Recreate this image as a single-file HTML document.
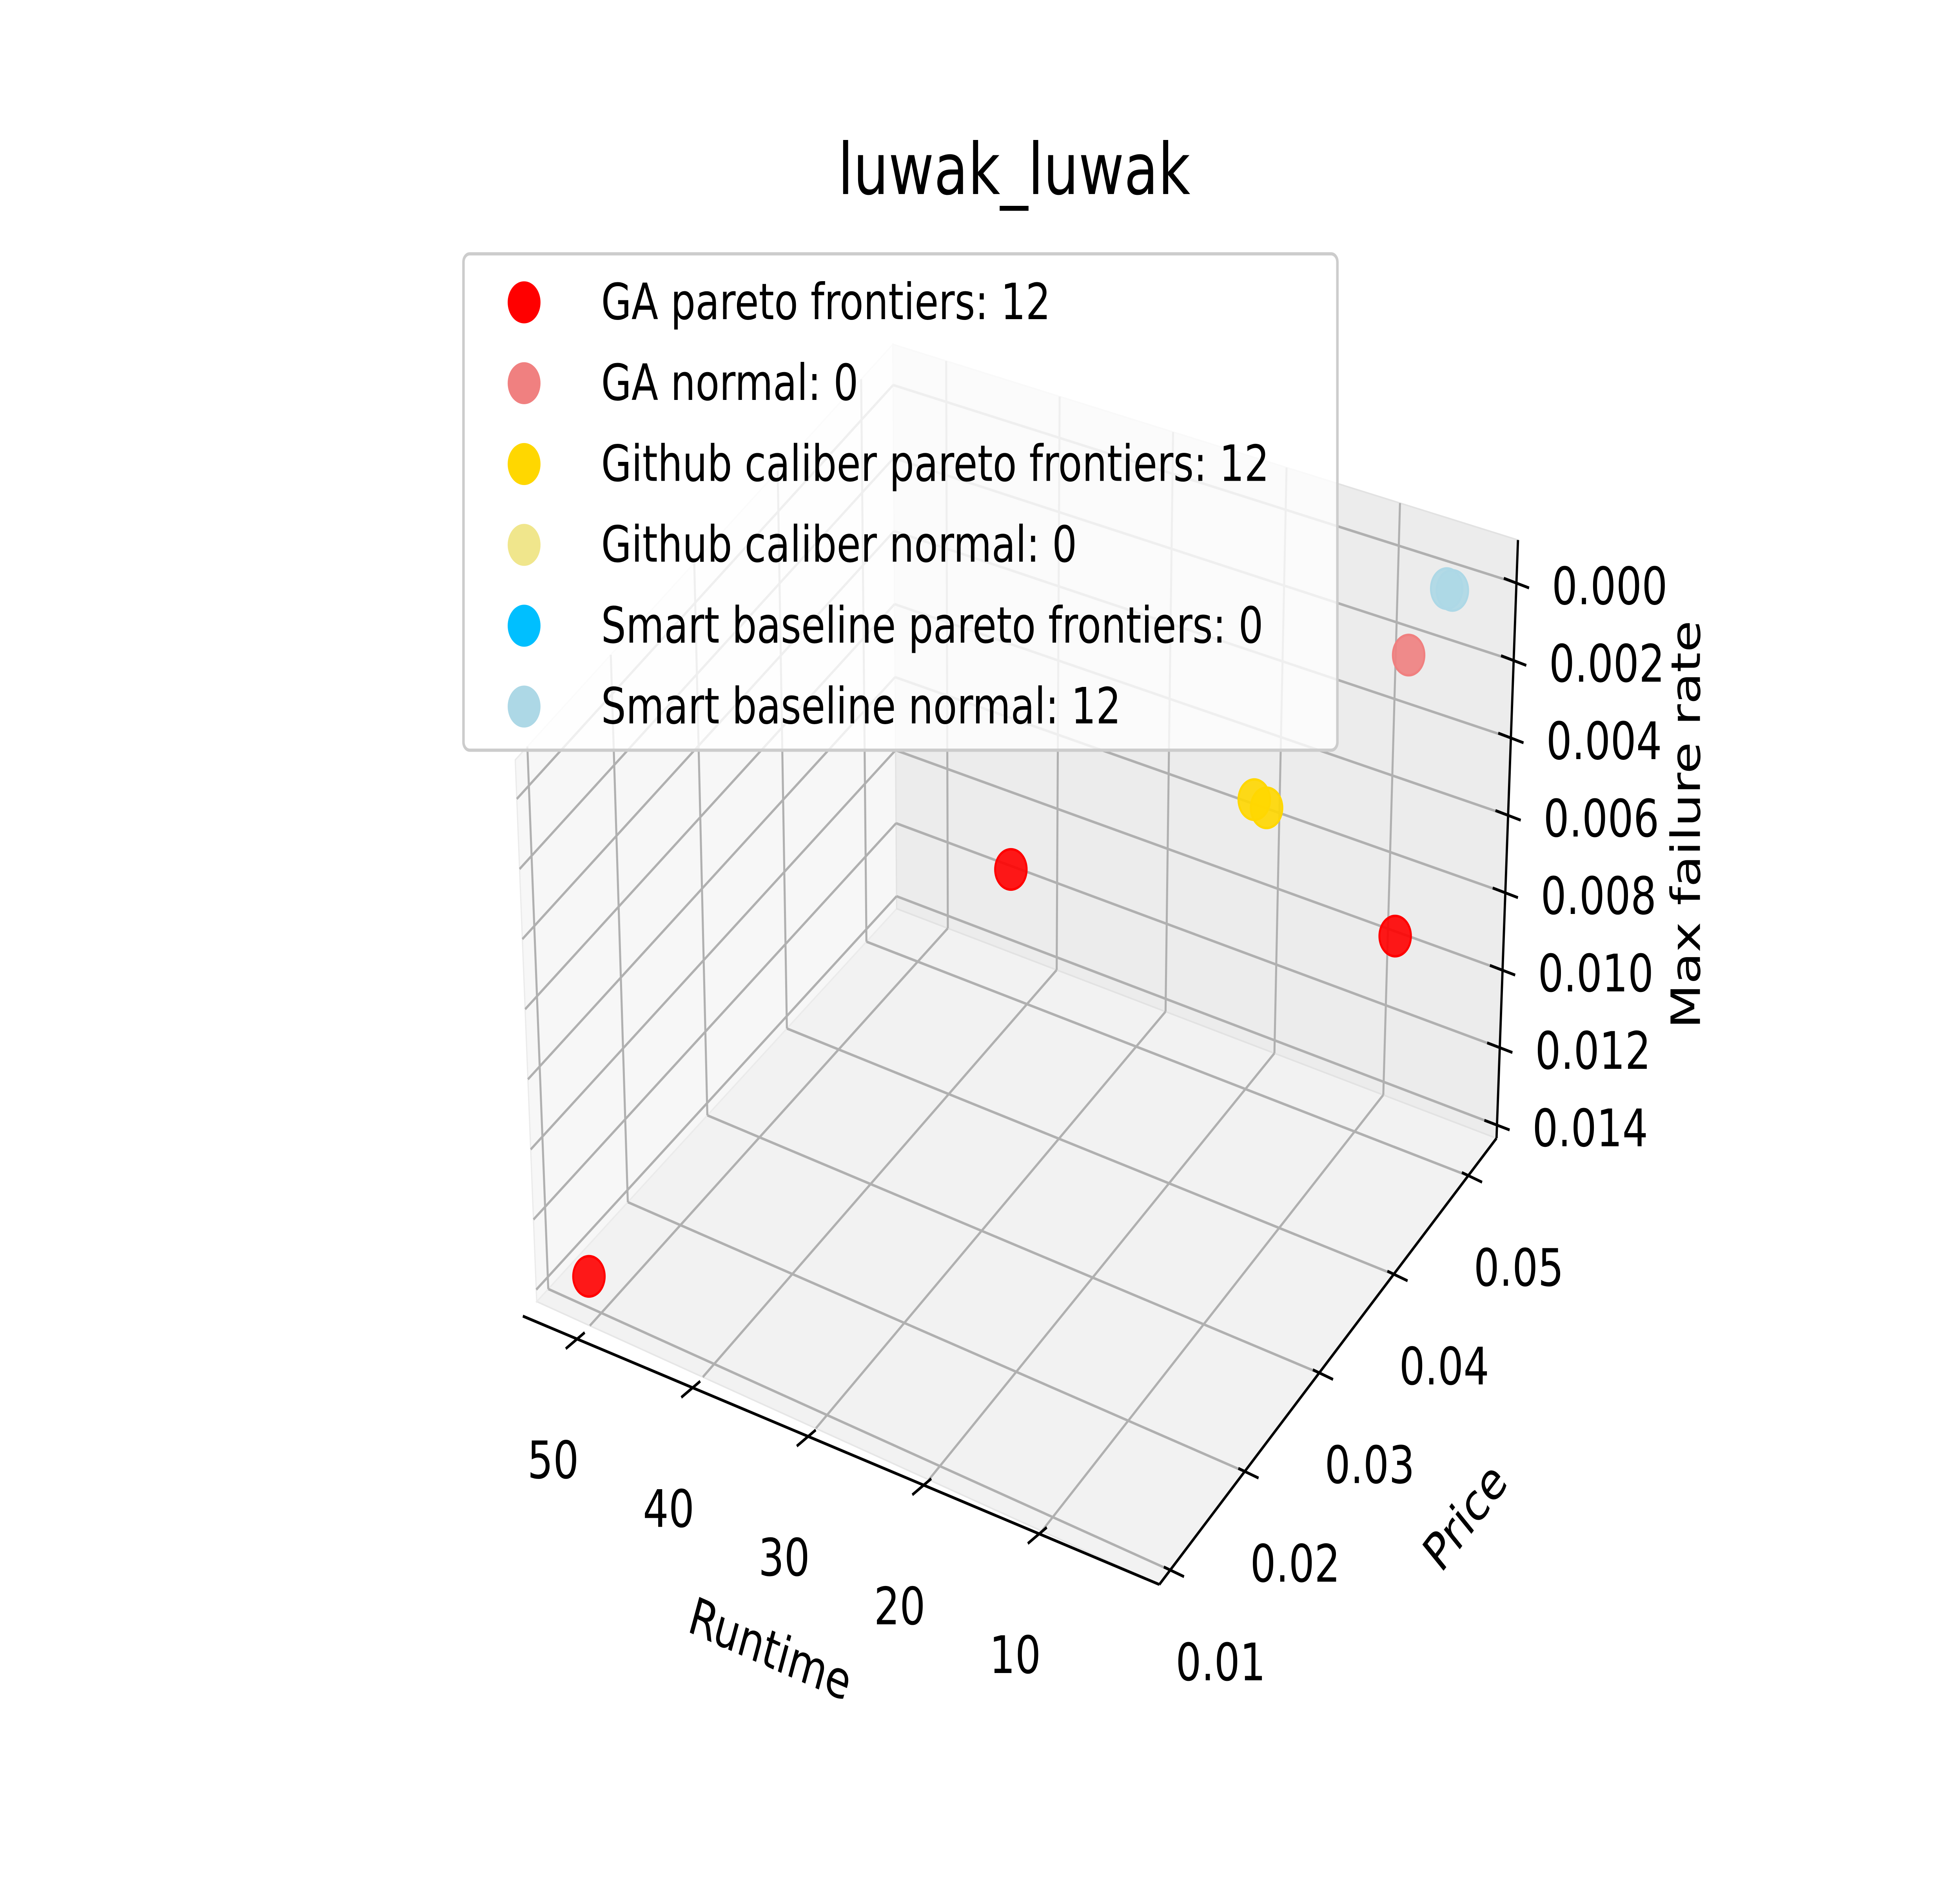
<!DOCTYPE html>
<html><head><meta charset="utf-8"><style>
html,body{margin:0;padding:0;background:#fff;overflow:hidden;width:100%;height:100%;}
svg{display:block;width:100vw;height:100vh;}
text{font-family:"DejaVu Sans","Liberation Sans",sans-serif;fill:#000;}
</style></head><body>
<svg id="chart" viewBox="0 0 1552 1164" preserveAspectRatio="none" xmlns="http://www.w3.org/2000/svg">
<rect x="0" y="0" width="1552" height="1164" fill="#fff"/>
<g id="panes"></g>
<g id="grid"></g>
<g id="axes"></g>
<g id="points"></g>
<text x="803" y="120" font-size="44" text-anchor="middle">luwak_luwak</text>
<g id="legend"></g>
</svg>
<script>
// ---- data ----
const runtimeTicks = [10, 20, 30, 40, 50];
const priceTicks = [0.01, 0.02, 0.03, 0.04, 0.05];
const rateTicks = [0, 0.002, 0.004, 0.006, 0.008, 0.010, 0.012, 0.014];
const rateTickLabels = ["0.000","0.002","0.004","0.006","0.008","0.010","0.012","0.014"];
const priceTickLabels = ["0.01","0.02","0.03","0.04","0.05"];
const runtimeTickLabels = ["10","20","30","40","50"];

const gaParetoRuntime = [50.7, 40.7, 6.1];
const gaParetoPrice = [0.0096, 0.0489, 0.0489];
const gaParetoRate = [0.0133, 0.0105, 0.0085];
const gaNormalRuntime = [7.0];
const gaNormalPrice = [0.051];
const gaNormalRate = [0.0018];
const ghParetoRuntime = [15.6, 14.5];
const ghParetoPrice = [0.044, 0.044];
const ghParetoRate = [0.0046, 0.0047];
const sbNormalRuntime = [4.5, 4.0];
const sbNormalPrice = [0.052, 0.052];
const sbNormalRate = [0.0001, 0.0001];

const legendLabels = ["GA pareto frontiers: 12","GA normal: 0","Github caliber pareto frontiers: 12","Github caliber normal: 0","Smart baseline pareto frontiers: 0","Smart baseline normal: 12"];
const legendColors = ["#ff0000","#f08080","#ffd700","#f0e68c","#00bfff","#add8e6"];

// ---- projection ----
const A=[425,805],B=[918,980],C=[1185,704],D=[710,562];
const At=[408,470],Bt=[920,640],Ct=[1202,334],Dt=[707,213];
function bil(P,Q,R,S,u,v){
  return [(1-u)*(1-v)*P[0]+u*(1-v)*Q[0]+u*v*R[0]+(1-u)*v*S[0],
          (1-u)*(1-v)*P[1]+u*(1-v)*Q[1]+u*v*R[1]+(1-u)*v*S[1]];
}
function uOf(r){return (54.7-r)/55.1;}
function vOf(p){return (p-0.00855)/0.04525;}
function wOf(z){return 0.928 - z/0.014*0.906;}
function projUVW(u,v,w){
  const b=bil(A,B,C,D,u,v), t=bil(At,Bt,Ct,Dt,u,v);
  return [b[0]+(t[0]-b[0])*w, b[1]+(t[1]-b[1])*w];
}
function proj(r,p,z){return projUVW(uOf(r),vOf(p),wOf(z));}

const NS="http://www.w3.org/2000/svg";
function mk(tag,attrs,parent){const e=document.createElementNS(NS,tag);for(const k in attrs)e.setAttribute(k,attrs[k]);parent.appendChild(e);return e;}
const panes=document.getElementById('panes'),grid=document.getElementById('grid'),axes=document.getElementById('axes'),pts=document.getElementById('points'),leg=document.getElementById('legend');
function poly(arr){return arr.map(p=>p[0].toFixed(1)+','+p[1].toFixed(1)).join(' ');}

let e;
e=mk('polygon',{points:poly([A,B,C,D]),fill:'#f2f2f2',stroke:'#e6e6e6','stroke-width':1},panes);


e=mk('polygon',{points:poly([A,D,Dt,At]),fill:'#f7f7f7',stroke:'#ebebeb','stroke-width':1},panes);


e=mk('polygon',{points:poly([D,C,Ct,Dt]),fill:'#ececec',stroke:'#e2e2e2','stroke-width':1},panes);



function gline(p,q,name){const l=mk('line',{x1:p[0],y1:p[1],x2:q[0],y2:q[1],stroke:'#b0b0b0','stroke-width':1.6},grid);

}
runtimeTicks.forEach(r=>{const u=uOf(r);
  gline(projUVW(u,0,0),projUVW(u,1,0),'runtime-gridline-floor');
  gline(projUVW(u,1,0),projUVW(u,1,1),'runtime-gridline-back');});
priceTicks.forEach(p=>{const v=vOf(p);
  gline(projUVW(0,v,0),projUVW(1,v,0),'price-gridline-floor');
  gline(projUVW(0,v,0),projUVW(0,v,1),'price-gridline-left');});
rateTicks.forEach(z=>{const w=wOf(z);
  gline(projUVW(0,0,w),projUVW(0,1,w),'rate-gridline-left');
  gline(projUVW(0,1,w),projUVW(1,1,w),'rate-gridline-back');});

function aline(p,q,name){const l=mk('line',{x1:p[0],y1:p[1],x2:q[0],y2:q[1],stroke:'#000','stroke-width':1.8},axes);

}
function txt(s,x,y,size,anchor,rot,name){const t=mk('text',{x:x,y:y,'font-size':size,'text-anchor':anchor,'dominant-baseline':'central'},axes);
if(rot)t.setAttribute('transform','rotate('+rot+' '+x+' '+y+')');t.textContent=s;

}
const RA0=[414,814],RA1=[918,980];
aline(RA0,RA1,'runtime-axis-line');
runtimeTicks.forEach((r,i)=>{const u=uOf(r);const p=[RA0[0]+(RA1[0]-RA0[0])*u,RA0[1]+(RA1[1]-RA0[1])*u];
  aline([p[0]+6,p[1]-4],[p[0]-9,p[1]+6],'runtime-tick');
  txt(runtimeTickLabels[i],p[0]-19,p[1]+75,32,'middle',0,'runtime-tick-label');});
aline(B,C,'price-axis-line');
priceTicks.forEach((p,i)=>{const v=vOf(p);const q=[B[0]+(C[0]-B[0])*v,B[1]+(C[1]-B[1])*v];
  aline([q[0]-5,q[1]-2],[q[0]+11,q[1]+4],'price-tick');
  txt(priceTickLabels[i],q[0]+40,q[1]+57,32,'middle',0,'price-tick-label');});
aline(C,Ct,'rate-axis-line');
rateTicks.forEach((z,i)=>{const w=wOf(z);const q=[C[0]+(Ct[0]-C[0])*w,C[1]+(Ct[1]-C[1])*w];
  aline([q[0]-10,q[1]-3],[q[0]+10,q[1]+3],'rate-tick');
  txt(rateTickLabels[i],q[0]+28,q[1]+2,32,'start',0,'rate-tick-label');});
txt('Runtime',610,1020,32,'middle',19,'runtime-axis-title');
txt('Price',1160,938,32,'middle',-46,'price-axis-title');
txt('Max failure rate',1335,510,32,'middle',-90,'rate-axis-title');

function series(rs,ps,zs,color,name){
  for(let i=0;i<rs.length;i++){const q=proj(rs[i],ps[i],zs[i]);
    const c=mk('circle',{cx:q[0],cy:q[1],r:12.5,fill:color,'fill-opacity':0.9,stroke:color,'stroke-width':1.5},pts);
    
    }
}
series(gaParetoRuntime,gaParetoPrice,gaParetoRate,'#ff0000','ga-pareto-point');
series(gaNormalRuntime,gaNormalPrice,gaNormalRate,'#f08080','ga-normal-point');
series(ghParetoRuntime,ghParetoPrice,ghParetoRate,'#ffd700','github-pareto-point');
series(sbNormalRuntime,sbNormalPrice,sbNormalRate,'#add8e6','smart-normal-point');

e=mk('rect',{x:367,y:157,width:692,height:307,rx:5,fill:'#fff','fill-opacity':0.8,stroke:'#cccccc','stroke-width':2},leg);


legendLabels.forEach((s,i)=>{const y=187+i*50;
  const c=mk('circle',{cx:415,cy:y,r:13,fill:legendColors[i]},leg);
  
  
  const t=mk('text',{x:476,y:y,'font-size':31,'dominant-baseline':'central'},leg);
  t.textContent=s;
  
  });
</script>
</body></html>
